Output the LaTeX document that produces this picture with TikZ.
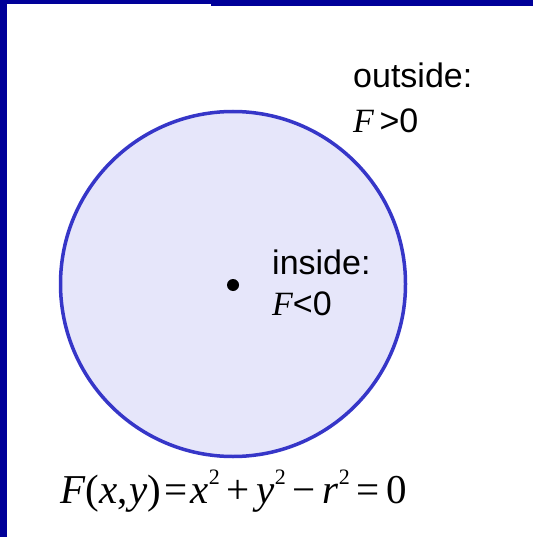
\documentclass[tikz,border=0pt]{standalone}
\usepackage{fontspec}
\setmainfont{Liberation Sans}
\newfontfamily\tnr{Liberation Serif}
\definecolor{frameblue}{HTML}{000099}
\definecolor{ringblue}{HTML}{3636C8}
\definecolor{fillblue}{HTML}{E6E6FA}
\newcommand{\sqr}{\raisebox{0.45em}{\fontsize{22}{22}\selectfont 2}}
\begin{document}
\begin{tikzpicture}[x=1pt,y=-1pt,
  lbl/.style={font=\fontsize{34}{38}\selectfont, anchor=base west, inner sep=0},
  eqn/.style={font=\tnr\fontsize{41}{46}\selectfont, anchor=base west, inner sep=0}]
\useasboundingbox (0,0) rectangle (533,537);
\fill[frameblue] (0,0) rectangle (533,537);
\fill[white] (7,6) rectangle (533,537);
\fill[white] (7,4.5) rectangle (211,6);
\node[circle, draw=ringblue, line width=3.5pt, fill=fillblue, minimum size=345pt, inner sep=0] (circ) at (233,284) {};
\node[circle, fill=black, minimum size=12pt, inner sep=0] (ctr) at (233,285) {};
\node[lbl] (out) at (353,88) {outside:};
\node[lbl] (outf) at (353,133) {{\tnr\itshape F}\,>0};
\node[lbl] (in) at (272,274) {inside:};
\node[lbl] (inf) at (272,315) {{\tnr\itshape F}<0};
\node[eqn] (eq) at (60,503) {\textit{F}(\textit{x},\kern2pt\textit{y})\kern3pt=\kern3pt\textit{x}\sqr\,+\,\textit{y}\sqr\,\textminus\,\textit{r}\sqr\,=\,0};
\end{tikzpicture}
\end{document}
